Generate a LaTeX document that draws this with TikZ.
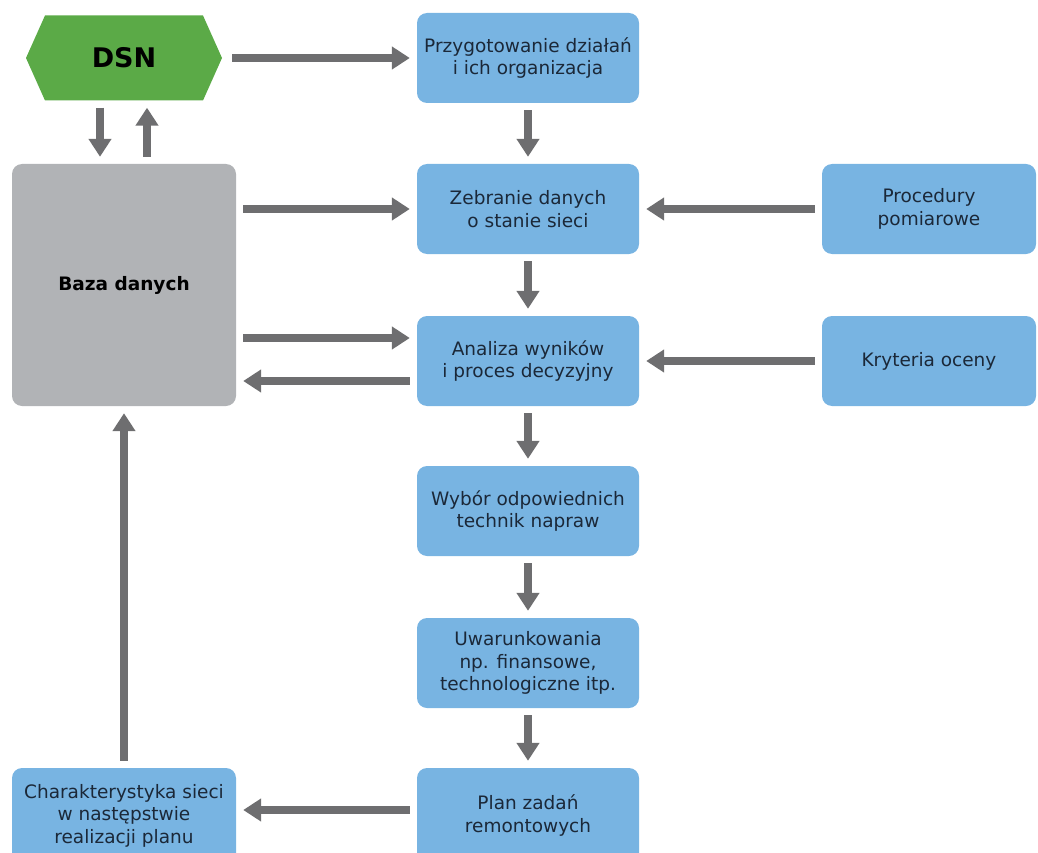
\documentclass[tikz,border=0pt]{standalone}
\usepackage{fontspec}
\setmainfont{DejaVu Sans}
\usetikzlibrary{arrows.meta}
\definecolor{boxblue}{HTML}{78B4E2}
\definecolor{boxgray}{HTML}{B1B3B6}
\definecolor{hexgreen}{HTML}{5BAA47}
\definecolor{arrgray}{HTML}{6E6E70}
\definecolor{txt}{HTML}{1B2838}
\tikzset{
  bluebox/.style={fill=boxblue, rounded corners=10pt, minimum width=222pt, minimum height=90pt,
    align=center, text=txt, font=\fontsize{18.5}{22.5}\selectfont, inner sep=0pt},
  sidebox/.style={bluebox, minimum width=214pt},
  grayboxst/.style={fill=boxgray, rounded corners=10pt, minimum width=224pt, minimum height=242pt,
    align=center, font=\bfseries\fontsize{18.5}{22}\selectfont, inner sep=0pt},
  flow/.style={draw=arrgray, line width=8pt, -{Triangle[width=22pt,length=18pt]},
    shorten >=7pt, shorten <=7pt}
}
\begin{document}
\begin{tikzpicture}[x=1pt,y=-1pt]
\useasboundingbox (0,0) rectangle (1038,853);
\clip (0,0) rectangle (1038,853);
% DSN hexagon
\fill[hexgreen] (26,58) -- (45,15.5) -- (203,15.5) -- (222,58) -- (203,100.5) -- (45,100.5) -- cycle;
\node[minimum width=196pt, minimum height=85pt, inner sep=0pt, font=\bfseries\fontsize{27}{30}\selectfont] (dsn) at (124,58) {DSN};
% boxes
\node[bluebox] (prz) at (528,58) {Przygotowanie działań\\i ich organizacja};
\node[bluebox] (zeb) at (528,209) {Zebranie danych\\o stanie sieci};
\node[bluebox] (ana) at (528,361) {Analiza wyników\\i proces decyzyjny};
\node[bluebox] (wyb) at (528,511) {Wybór odpowiednich\\technik napraw};
\node[bluebox] (uwa) at (528,663) {Uwarunkowania\\np. finansowe,\\technologiczne itp.};
\node[bluebox, minimum height=95pt] (pla) at (528,815.5) {Plan zadań\\remontowych};
\node[sidebox] (pro) at (929,209) {Procedury\\pomiarowe};
\node[sidebox] (kry) at (929,361) {Kryteria oceny};
\node[grayboxst] (baz) at (124,285) {Baza danych};
\node[bluebox, minimum width=224pt, minimum height=95pt] (cha) at (124,815.5) {Charakterystyka sieci\\w następstwie\\realizacji planu};
% arrows
\coordinate (dsnout) at ([xshift=3pt]dsn.east);
\draw[flow] (dsnout) -- (prz.west);
\draw[flow] ([xshift=-24pt]dsn.south) -- ([xshift=-24pt]baz.north);
\draw[flow] ([xshift=23pt]baz.north) -- ([xshift=23pt]dsn.south);
\draw[flow] (prz) -- (zeb);
\draw[flow] (zeb) -- (ana);
\draw[flow] (ana) -- (wyb);
\draw[flow] (wyb) -- (uwa);
\draw[flow] (uwa) -- (pla);
\draw[flow] (baz.east |- zeb.west) -- (zeb.west);
\draw[flow] (pro) -- (zeb);
\draw[flow] (kry) -- (ana);
\draw[flow] ([yshift=23pt]baz.east |- ana.west) -- ([yshift=23pt]ana.west);
\draw[flow] ([yshift=-20pt]ana.west) -- ([yshift=-20pt]baz.east |- ana.west);
\draw[flow] (pla.west |- 0,810) -- (cha.east |- 0,810);
\draw[flow] (cha) -- (baz);
\end{tikzpicture}
\end{document}
